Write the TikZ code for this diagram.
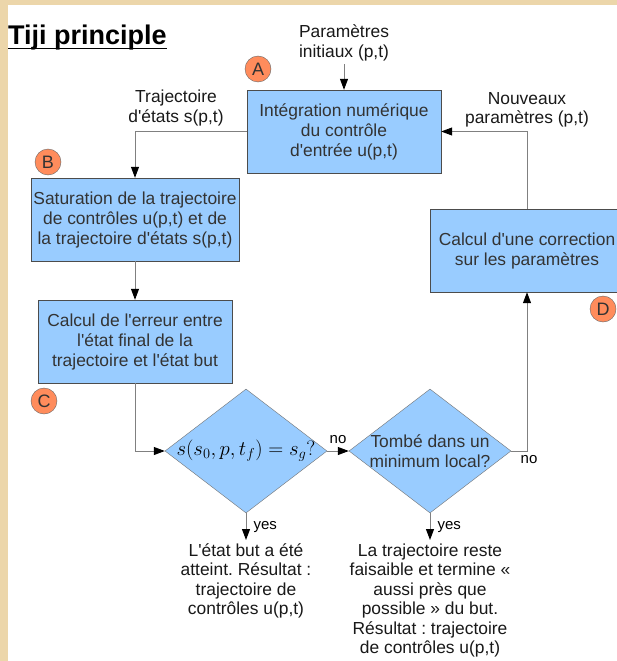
\documentclass[tikz,border=0pt]{standalone}
\usepackage{fontspec}
\setmainfont{Liberation Sans}[Ligatures=TeXOff]
\frenchspacing
\usetikzlibrary{arrows.meta, shapes.geometric, positioning}

\definecolor{parchment}{RGB}{236,214,170}
\definecolor{boxblue}{RGB}{153,204,255}
\definecolor{markorange}{RGB}{255,140,92}
\definecolor{linegray}{RGB}{128,128,128}
\definecolor{textgray}{RGB}{51,51,51}

\begin{document}
\begin{tikzpicture}[x=1pt, y=-1pt,
    stepbox/.style={draw=black!70, fill=boxblue, minimum width=194pt, minimum height=83pt,
        inner sep=0pt, align=center, text=textgray, font=\fontsize{17.4}{20}\selectfont},
    test/.style={diamond, draw=black!55, fill=boxblue, minimum width=162pt, minimum height=124pt,
        inner sep=0pt},
    testtext/.style={align=center, text=textgray, font=\fontsize{17.4}{19.5}\selectfont},
    note/.style={align=center, text=black!90, font=\fontsize{17.4}{19.5}\selectfont},
    answer/.style={inner sep=1pt, font=\fontsize{15}{18}\selectfont},
    letter/.style={circle, draw=black!60, fill=markorange, minimum size=26pt, inner sep=0pt,
        text=textgray, font=\fontsize{18}{20}\selectfont},
    flow/.style={draw=linegray, line width=1pt, -{Triangle[length=11pt, width=8pt, color=black]}}]

    \useasboundingbox (0,0) rectangle (617,661);
    \clip (0,0) rectangle (617,661);
    \fill[parchment] (0,0) rectangle (617,661);
    \fill[white] (8,5) rectangle (617,661);

    % heading
    \node[anchor=base west, inner sep=0pt, font=\bfseries\fontsize{27}{30}\selectfont] (title) at (8,45) {Tiji principle};
    \draw[line width=1.4pt] ([yshift=-3.5pt]title.base west) -- ([yshift=-3.5pt]title.base east);

    % steps
    \node[stepbox] (integ) at (344,131.5) {Intégration numérique\\du contrôle\\d'entrée u(p,t)};
    \node[stepbox, minimum width=208pt] (satur) at (135,219.5) {Saturation de la trajectoire\\de contrôles u(p,t) et de\\la trajectoire d'états s(p,t)};
    \node[stepbox] (erreur) at (135,341.5) {Calcul de l'erreur entre\\l'état final de la\\trajectoire et l'état but};
    \node[stepbox] (correc) at (527,250.5) {Calcul d'une correction\\sur les paramètres};

    % tests
    \node[test, label={[testtext, text=black, font=\fontsize{22}{24}\selectfont]center:$s(s_0,p,t_f)=s_g?$}] (atteint) at (246,451) {};
    \node[test, label={[testtext]center:{Tombé dans un\\minimum local?}}] (minlocal) at (430,451) {};

    % letters
    \node[letter] (markA) at (258,69) {A};
    \node[letter] (markB) at (48,162) {B};
    \node[letter] (markC) at (44,401) {C};
    \node[letter] (markD) at (603,309) {D};

    % free texts
    \node[note] (initp) at (344,43) {Paramètres\\initiaux (p,t)};
    \node[note] (etats) at (176,108) {Trajectoire\\d'états s(p,t)};
    \node[note] (nouv) at (527,110) {Nouveaux\\paramètres (p,t)};
    \node[note, anchor=north] (resbut) at (246,540) {L'état but a été\\atteint. Résultat :\\trajectoire de\\contrôles u(p,t)};
    \node[note, anchor=north] (resmin) at (430,540) {La trajectoire reste\\faisaible et termine «\\aussi près que\\possible » du but.\\Résultat : trajectoire\\de contrôles u(p,t)};

    % connectors
    \draw[flow] (initp) -- (integ);
    \draw[flow] (integ.west) -| (satur.north);
    \draw[flow] (satur) -- (erreur);
    \draw[flow] (erreur.south) |- (atteint.west);
    \draw[flow] (atteint.east) -- node[answer, above=6pt] {no} (minlocal.west);
    \draw[flow] (minlocal.east) -| node[answer, pos=0.5, below=3pt, xshift=2pt] {no} (correc.south);
    \draw[flow] (correc.north) |- (integ.east);
    \draw[flow] (atteint.south) -- node[answer, right=6pt] {yes} (resbut.north);
    \draw[flow] (minlocal.south) -- node[answer, right=6pt] {yes} (resmin.north);
\end{tikzpicture}
\end{document}
